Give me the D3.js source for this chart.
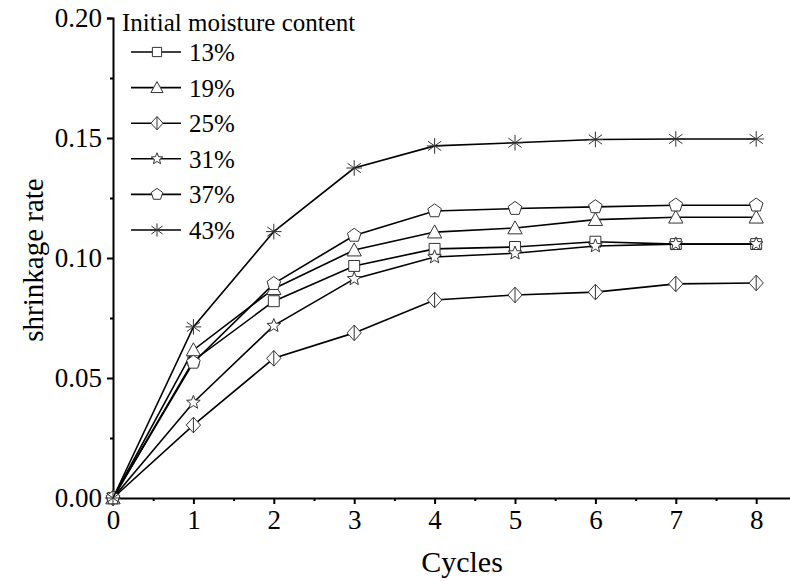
<!DOCTYPE html>
<html>
<head>
<meta charset="utf-8">
<script src="https://cdn.jsdelivr.net/npm/d3@7"></script>
<style>
  body { margin: 0; background: #fff; }
  svg { display: block; }
  svg text { font-family: "Liberation Serif", "Times New Roman", serif; fill: #000; }
</style>
</head>
<body>
<svg id="chart" width="790" height="581"></svg>
<script>
var cycles = [0, 1, 2, 3, 4, 5, 6, 7, 8];
var names = ["13%", "19%", "25%", "31%", "37%", "43%"];
var shapes = ["square", "triangle", "diamond", "star", "pentagon", "asterisk"];

var m13 = [0, 0.0572, 0.0820, 0.0967, 0.1038, 0.1046, 0.1068, 0.1058, 0.1058];
var m19 = [0, 0.0617, 0.0872, 0.1033, 0.1108, 0.1125, 0.1160, 0.1170, 0.1170];
var m25 = [0, 0.0304, 0.0582, 0.0688, 0.0825, 0.0846, 0.0858, 0.0892, 0.0896];
var m31 = [0, 0.0398, 0.0718, 0.0913, 0.1004, 0.1020, 0.1050, 0.1058, 0.1058];
var m37 = [0, 0.0565, 0.0893, 0.1094, 0.1196, 0.1206, 0.1213, 0.1220, 0.1220];
var m43 = [0, 0.0713, 0.1110, 0.1375, 0.1467, 0.1480, 0.1494, 0.1496, 0.1496];
var series = [m13, m19, m25, m31, m37, m43];

var yTicks = [0, 0.05, 0.10, 0.15, 0.20];
var yMinor = [0.025, 0.075, 0.125, 0.175];
var xTicks = [0, 1, 2, 3, 4, 5, 6, 7, 8];
var xMinor = [0.5, 1.5, 2.5, 3.5, 4.5, 5.5, 6.5, 7.5, 8.5];

var svg = d3.select("#chart");

var x = d3.scaleLinear().domain([0, 8.5]).range([113, 113 + 8.5 * 80.4]);
var y = d3.scaleLinear().domain([0, 0.2]).range([498, 18]);

// marker paths, centred on 0,0
function shapePath(kind, s) {
  var p = d3.path();
  if (kind == "square") {
    p.rect(-s * 0.42, -s * 0.42, s * 0.84, s * 0.84);
  } else if (kind == "triangle") {
    p.moveTo(0, -s * 0.55); p.lineTo(s * 0.55, s * 0.45); p.lineTo(-s * 0.55, s * 0.45); p.closePath();
  } else if (kind == "diamond") {
    p.moveTo(0, -s * 0.6); p.lineTo(s * 0.55, 0); p.lineTo(0, s * 0.6); p.lineTo(-s * 0.55, 0); p.closePath();
    p.moveTo(0, -s * 0.6); p.lineTo(0, s * 0.6);
  } else if (kind == "star") {
    for (var i = 0; i < 10; i++) {
      var r = i % 2 == 0 ? s * 0.55 : s * 0.24;
      var a = -Math.PI / 2 + i * Math.PI / 5;
      if (i == 0) p.moveTo(r * Math.cos(a), r * Math.sin(a));
      else p.lineTo(r * Math.cos(a), r * Math.sin(a));
    }
    p.closePath();
  } else if (kind == "pentagon") {
    for (var j = 0; j < 5; j++) {
      var b = -Math.PI / 2 + j * 2 * Math.PI / 5;
      if (j == 0) p.moveTo(s * 0.55 * Math.cos(b), s * 0.55 * Math.sin(b));
      else p.lineTo(s * 0.55 * Math.cos(b), s * 0.55 * Math.sin(b));
    }
    p.closePath();
  } else {
    var h = s * 0.6;
    p.moveTo(0, -h); p.lineTo(0, h);
    p.moveTo(-h * 0.85, -h * 0.6); p.lineTo(h * 0.85, h * 0.6);
    p.moveTo(-h * 0.85, h * 0.6); p.lineTo(h * 0.85, -h * 0.6);
    p.moveTo(-h, 0); p.lineTo(h, 0);
  }
  return p.toString();
}

// axes
svg.append("g").attr("transform", "translate(113,0)")
  .call(d3.axisLeft(y).tickValues(yTicks).tickSize(6).tickPadding(5).tickFormat(d3.format(".2f")));
svg.append("g").attr("transform", "translate(113,0)")
  .call(d3.axisLeft(y).tickValues(yMinor).tickSize(3).tickFormat(""))
  .select(".domain").remove();

svg.append("g").attr("transform", "translate(0,498)")
  .call(d3.axisBottom(x).tickValues(xTicks).tickSize(6).tickPadding(6).tickFormat(d3.format("d")));
svg.append("g").attr("transform", "translate(0,498)")
  .call(d3.axisBottom(x).tickValues(xMinor).tickSize(3).tickFormat(""))
  .select(".domain").remove();

svg.selectAll(".domain").attr("stroke", "#000").attr("stroke-width", 2);
svg.selectAll(".tick line").attr("stroke", "#000").attr("stroke-width", 2);
svg.selectAll(".tick text").style("font-family", "'Liberation Serif', serif").style("font-size", "27px");

// axis titles
svg.append("text").attr("x", 462).attr("y", 572).attr("text-anchor", "middle")
  .style("font-size", "30px").text("Cycles");
svg.append("text").attr("transform", "translate(43,260) rotate(-90)").attr("text-anchor", "middle")
  .style("font-size", "29px").text("shrinkage rate");

// series
var line = d3.line().x(function(d, i) { return x(cycles[i]); }).y(function(d) { return y(d); });

series.forEach(function(vals, k) {
  svg.append("path").datum(vals)
    .attr("d", line).attr("fill", "none").attr("stroke", "#000").attr("stroke-width", 1.6);
  svg.selectAll(".pt" + k).data(vals).enter().append("path")
    .attr("class", "pt" + k)
    .attr("transform", function(d, i) { return "translate(" + x(cycles[i]) + "," + y(d) + ")"; })
    .attr("d", shapePath(shapes[k], 13))
    .attr("fill", shapes[k] == "asterisk" ? "none" : "#fff")
    .attr("stroke", "#333").attr("stroke-width", 1);
});

// legend
var legend = svg.append("g");
legend.append("text").attr("x", 122).attr("y", 31).style("font-size", "25px").text("Initial moisture content");
names.forEach(function(n, k) {
  var cy = 52 + k * 35.6;
  legend.append("line").attr("x1", 131).attr("x2", 181).attr("y1", cy).attr("y2", cy)
    .attr("stroke", "#000").attr("stroke-width", 1.6);
  legend.append("path").attr("transform", "translate(157," + cy + ")")
    .attr("d", shapePath(shapes[k], 11))
    .attr("fill", shapes[k] == "asterisk" ? "none" : "#fff")
    .attr("stroke", "#333").attr("stroke-width", 1);
  legend.append("text").attr("x", 189).attr("y", cy + 9).style("font-size", "25px").text(n);
});
</script>
</body>
</html>
